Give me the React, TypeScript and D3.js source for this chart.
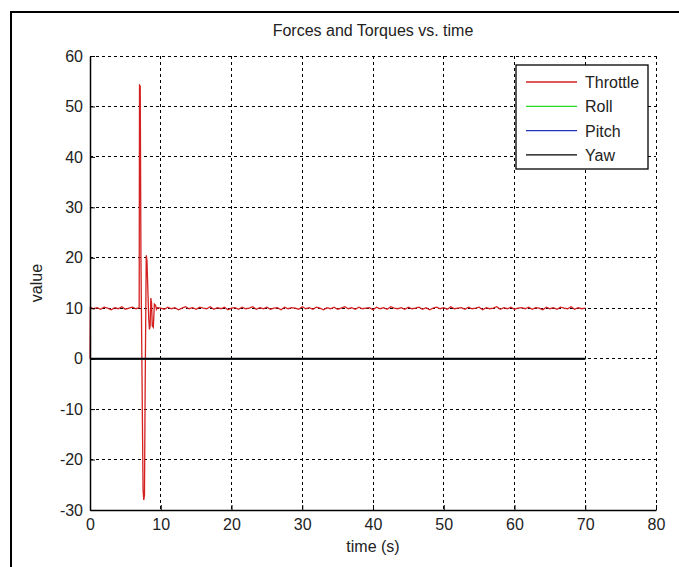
import React, { useRef, useEffect } from 'react';
import * as d3 from 'd3';

// throttle samples before the spike, every 0.5 s from t = 0.5
const throttlePre = [9.9, 10.1, 9.8, 10.2, 10.0, 9.7, 10.1, 9.9, 10.3, 9.8, 10.0, 10.2, 9.9, 10.1];

// the transient around t = 7..9.5 s, [time, value]
const throttleSpike: [number, number][] = [
  [6.95, 10.1], [7.0, 54.2], [7.1, 54.0], [7.2, 20], [7.5, -26], [7.6, -28], [7.7, -27],
  [7.8, -5], [7.95, 20.5], [8.05, 19.5], [8.3, 8], [8.4, 5.8], [8.5, 6.5], [8.6, 12],
  [8.7, 11], [8.8, 6.5], [8.95, 6.2], [9.1, 10.8], [9.25, 10.6], [9.4, 9.8], [9.5, 10.1],
];

// throttle samples after the spike, every 0.5 s from t = 10 to 70
const throttlePost = [
  10.0, 9.8, 10.2, 9.9, 10.1, 9.7, 10.0, 10.3, 9.9, 10.1,
  9.8, 10.2, 10.0, 9.9, 10.3, 9.8, 10.1, 9.9, 10.2, 9.7,
  10.0, 10.1, 9.8, 10.2, 9.9, 10.0, 10.3, 9.8, 10.1, 9.9,
  10.2, 9.8, 10.0, 10.1, 9.7, 10.2, 9.9, 10.1, 10.0, 9.8,
  10.3, 9.9, 10.1, 9.8, 10.2, 10.0, 9.7, 10.1, 9.9, 10.2,
  9.8, 10.0, 10.3, 9.9, 10.1, 9.8, 10.2, 9.9, 10.0, 10.1,
  9.7, 10.2, 9.9, 10.1, 9.8, 10.3, 10.0, 9.9, 10.1, 9.8,
  10.2, 9.9, 10.0, 10.2, 9.8, 10.1, 9.7, 10.0, 10.2, 9.9,
  10.1, 9.8, 10.3, 9.9, 10.0, 10.1, 9.8, 10.2, 9.9, 10.0,
  10.2, 9.7, 10.1, 9.9, 10.0, 10.3, 9.8, 10.1, 9.9, 10.2,
  9.8, 10.0, 10.1, 9.9, 10.2, 9.8, 10.1, 10.0, 9.7, 10.2,
  9.9, 10.1, 9.8, 10.2, 10.0, 9.9, 10.3, 9.8, 10.1, 9.9,
  10.0,
];

const zeroTime = [0, 70];
const roll = [0, 0];
const pitch = [0, 0];
const yaw = [0, 0];

const xTicks = [0, 10, 20, 30, 40, 50, 60, 70, 80];
const yTicks = [-30, -20, -10, 0, 10, 20, 30, 40, 50, 60];

const seriesNames = ['Throttle', 'Roll', 'Pitch', 'Yaw'];
const seriesColors = ['#d42020', '#22dd22', '#2233bb', '#000000'];

const FONT = '"Liberation Sans", Arial, sans-serif';

function App() {
  const svgRef = useRef<SVGSVGElement>(null);

  useEffect(() => {
    const svg = d3.select(svgRef.current);
    svg.selectAll('*').remove();

    const x = d3.scaleLinear().domain([0, 80]).range([90, 656]);
    const y = d3.scaleLinear().domain([-30, 60]).range([510, 56]);

    // figure frame (only left/top edges are visible)
    svg.append('rect')
      .attr('x', 11).attr('y', 12).attr('width', 720).attr('height', 620)
      .attr('fill', 'none').attr('stroke', '#000').attr('stroke-width', 2);

    // grid
    const grid = svg.append('g').attr('stroke', '#000').attr('stroke-width', 1)
      .attr('stroke-dasharray', '3,3').attr('shape-rendering', 'crispEdges');
    grid.selectAll('.gx').data(xTicks.filter((d) => d > 0)).join('line')
      .attr('x1', (d) => x(d)).attr('x2', (d) => x(d))
      .attr('y1', y(60)).attr('y2', y(-30));
    grid.selectAll('.gy').data(yTicks.filter((d) => d > -30)).join('line')
      .attr('x1', x(0)).attr('x2', x(80))
      .attr('y1', (d) => y(d)).attr('y2', (d) => y(d));

    // throttle points
    const throttle: [number, number][] = [[0, 0], [0.05, 10.2]];
    throttlePre.forEach((v, i) => throttle.push([0.5 + i * 0.5, v]));
    throttleSpike.forEach((p) => throttle.push(p));
    throttlePost.forEach((v, i) => throttle.push([10 + i * 0.5, v]));

    const lineGen = d3.line<[number, number]>()
      .x((d) => x(d[0]))
      .y((d) => y(d[1]));

    const plot = svg.append('g');
    plot.append('path').datum(throttle)
      .attr('d', lineGen).attr('fill', 'none')
      .attr('stroke', seriesColors[0]).attr('stroke-width', 1.3);

    [roll, pitch, yaw].forEach((vals, k) => {
      const pts: [number, number][] = vals.map((v, i) => [zeroTime[i], v]);
      plot.append('path').datum(pts)
        .attr('d', lineGen).attr('fill', 'none')
        .attr('stroke', seriesColors[k + 1]).attr('stroke-width', k === 2 ? 2 : 1.5);
    });

    // axes with inward ticks, plain hyphen minus like the original
    const fmt = (d: d3.NumberValue) => String(d);
    const xAxis = d3.axisBottom(x).tickValues(xTicks).tickFormat(fmt)
      .tickSize(-5).tickSizeOuter(0).tickPadding(6);
    const gx = svg.append('g').attr('transform', `translate(0,${y(-30)})`).call(xAxis);
    const yAxis = d3.axisLeft(y).tickValues(yTicks).tickFormat(fmt)
      .tickSize(-5).tickSizeOuter(0).tickPadding(7);
    const gy = svg.append('g').attr('transform', `translate(${x(0)},0)`).call(yAxis);
    [gx, gy].forEach((g) => {
      g.select('.domain').attr('stroke', '#000').attr('stroke-width', 1.5);
      g.selectAll('.tick line').attr('stroke', '#000');
      g.selectAll('.tick text').attr('fill', '#222')
        .style('font-family', FONT).style('font-size', '16px');
    });
    gx.selectAll('.tick text').attr('dy', '0.9em');

    // titles
    svg.append('text').attr('x', 373).attr('y', 36).attr('text-anchor', 'middle')
      .style('font-family', FONT).style('font-size', '16px').attr('fill', '#222')
      .text('Forces and Torques vs. time');
    svg.append('text').attr('x', 373).attr('y', 552).attr('text-anchor', 'middle')
      .style('font-family', FONT).style('font-size', '16px').attr('fill', '#222')
      .text('time (s)');
    svg.append('text').attr('transform', 'translate(42,283) rotate(-90)')
      .attr('text-anchor', 'middle')
      .style('font-family', FONT).style('font-size', '16px').attr('fill', '#222')
      .text('value');

    // legend
    const legend = svg.append('g');
    legend.append('rect').attr('x', 516).attr('y', 65).attr('width', 132).attr('height', 104)
      .attr('fill', '#fff').attr('stroke', '#000').attr('stroke-width', 1.3);
    seriesNames.forEach((name, i) => {
      const ly = 82 + i * 24.3;
      legend.append('line').attr('x1', 526).attr('x2', 577).attr('y1', ly).attr('y2', ly)
        .attr('stroke', seriesColors[i]).attr('stroke-width', 1.3);
      legend.append('text').attr('x', 585).attr('y', ly + 6)
        .style('font-family', FONT).style('font-size', '16px').attr('fill', '#222')
        .text(name);
    });
  }, []);

  return (
    <svg
      ref={svgRef}
      width={679}
      height={567}
      style={{ position: 'absolute', left: 0, top: 0, background: '#fff' }}
    />
  );
}

export default App;
